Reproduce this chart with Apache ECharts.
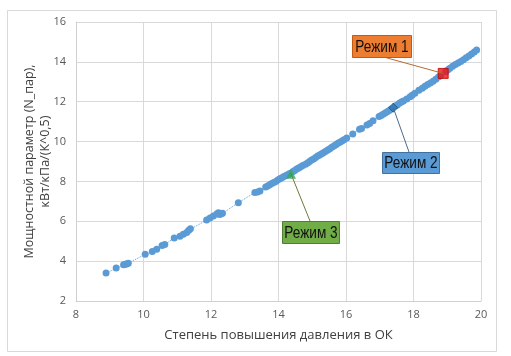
<!DOCTYPE html>
<html><head><meta charset="utf-8">
<script src="https://cdn.jsdelivr.net/npm/echarts@6/dist/echarts.min.js"></script>
<style>html,body{margin:0;padding:0;background:#fff}#c{width:511px;height:356px}</style>
</head><body><div id="c"></div>
<script>
// Measured points (pressure ratio, power parameter)
const xValues = [8.89,9.19,9.41,9.46,9.50,9.55,10.05,10.26,10.39,10.55,10.63,10.91,11.08,11.18,11.28,11.34,11.39,
 11.87,11.97,12.07,12.17,12.22,12.26,12.30,12.34,12.81,13.30,13.38,13.45,13.62,13.68,13.74,13.80,13.86,13.92,13.98,
 14.04,14.10,14.16,14.22,14.28,14.33,14.42,14.48,14.54,14.60,14.66,14.72,14.80,14.86,14.92,14.98,15.04,15.10,15.16,
 15.22,15.28,15.34,15.40,15.46,15.52,15.58,15.64,15.70,15.76,15.82,15.88,15.94,16.02,16.20,16.40,16.46,16.62,16.70,
 16.80,16.98,17.04,17.10,17.16,17.22,17.28,17.34,17.46,17.52,17.58,17.64,17.70,17.80,17.90,17.96,18.04,18.16,18.26,
 18.34,18.42,18.50,18.58,18.66,18.74,18.80,18.96,19.02,19.08,19.16,19.24,19.32,19.40,19.48,19.56,19.64,19.72,19.80,19.87];
const yValues = [3.40,3.65,3.82,3.85,3.86,3.89,4.34,4.48,4.60,4.79,4.83,5.16,5.25,5.35,5.44,5.55,5.62,
 6.06,6.17,6.27,6.37,6.43,6.34,6.38,6.40,6.93,7.45,7.47,7.52,7.72,7.77,7.83,7.89,7.95,8.00,8.07,
 8.13,8.19,8.25,8.30,8.35,8.40,8.49,8.55,8.62,8.68,8.74,8.80,8.86,8.93,9.00,9.07,9.13,9.20,9.27,
 9.32,9.39,9.45,9.52,9.58,9.64,9.72,9.78,9.84,9.91,9.97,10.03,10.09,10.18,10.38,10.62,10.66,10.83,10.91,
 11.05,11.26,11.31,11.37,11.43,11.50,11.56,11.63,11.78,11.84,11.92,11.99,12.04,12.14,12.25,12.33,12.42,12.57,12.68,
 12.77,12.86,12.94,13.03,13.13,13.24,13.32,13.52,13.60,13.68,13.78,13.87,13.94,14.02,14.10,14.20,14.30,14.40,14.50,14.60];
const modeNames = ['Режим 1','Режим 2','Режим 3'];
const modeX = [18.88, 17.40, 14.37];
const modeY = [13.42, 11.70, 8.38];
const xTicks = [8,10,12,14,16,18,20];
const yTicks = [2,4,6,8,10,12,14,16];

const chart = echarts.init(document.getElementById('c'), null, {renderer:'canvas'});
const pts = xValues.map((x,i)=>[x,yValues[i]]);
const axisFont = {fontFamily:'Open Sans', fontSize:11, color:'#595959'};
chart.setOption({
  animation:false,
  grid:{left:76,right:30,top:22,bottom:55},
  xAxis:{type:'value',min:xTicks[0],max:xTicks[xTicks.length-1],interval:2,
    name:'Степень повышения давления в ОК',nameLocation:'middle',nameGap:28,nameMoveOverlap:false,
    nameTextStyle:{fontFamily:'Open Sans',fontSize:13,color:'#404040'},
    axisLine:{show:true,lineStyle:{color:'#d0d0d0'}},axisTick:{show:false},
    axisLabel:Object.assign({margin:8},axisFont),
    splitLine:{show:true,lineStyle:{color:'#d9d9d9'}}},
  yAxis:{type:'value',min:yTicks[0],max:yTicks[yTicks.length-1],interval:2,
    name:'Мощностной параметр (N_пар),\nкВт/кПа/(К^0,5)',nameLocation:'middle',nameGap:23,nameRotate:90,nameMoveOverlap:false,
    nameTextStyle:{fontFamily:'Open Sans',fontSize:12.5,color:'#404040',lineHeight:16},
    axisLine:{show:true,lineStyle:{color:'#d0d0d0'}},axisTick:{show:false},
    axisLabel:Object.assign({margin:10},axisFont),
    splitLine:{show:true,lineStyle:{color:'#d9d9d9'}}},
  series:[
    {type:'line',data:pts,symbol:'circle',symbolSize:7,
     itemStyle:{color:'#5B9BD5'},lineStyle:{color:'#5B9BD5',width:1,type:'dotted'},z:2},
    {type:'scatter',data:[[modeX[0],modeY[0]]],symbol:'rect',symbolSize:10,
     itemStyle:{color:'#F01010',borderColor:'#C00000',borderWidth:1},z:5},
    {type:'scatter',data:[[modeX[1],modeY[1]]],symbol:'diamond',symbolSize:9,
     itemStyle:{color:'#2E75B6',borderColor:'#1F4E79',borderWidth:1},z:5},
    {type:'scatter',data:[[modeX[2],modeY[2]]],symbol:'triangle',symbolSize:10,
     itemStyle:{color:'#2EAA5A'},z:5}
  ]
});

const boxes = [
  {x:352,y:35,w:59,h:22,ax:380,ay:56,fill:'#ED7D31',stroke:'#C55A11',line:'#B8692F'},
  {x:382,y:152,w:57,h:21,ax:409,ay:152,fill:'#5B9BD5',stroke:'#41719C',line:'#4A6C8C'},
  {x:282,y:221,w:57,h:22,ax:310,ay:221,fill:'#70AD47',stroke:'#507E32',line:'#6B7A3A'}
];
const g = [{type:'rect',shape:{x:7.5,y:10.5,width:489,height:341},style:{fill:'none',stroke:'#d9d9d9',lineWidth:1},z:0,silent:true}];
boxes.forEach((b,i)=>{
  const p = chart.convertToPixel({gridIndex:0},[modeX[i],modeY[i]]);
  g.push({type:'line',shape:{x1:b.ax,y1:b.ay,x2:p[0],y2:p[1]},style:{stroke:b.line,lineWidth:1},z:10});
  g.push({type:'rect',shape:{x:b.x+0.5,y:b.y+0.5,width:b.w,height:b.h},style:{fill:b.fill,stroke:b.stroke,lineWidth:1},z:11});
  g.push({type:'text',x:b.x+b.w/2+0.5,y:b.y+b.h/2+1,scaleX:0.8,
    style:{text:modeNames[i],font:'17px "Liberation Sans"',fill:'#111',textAlign:'center',textVerticalAlign:'middle'},z:12});
});
chart.setOption({graphic:g});
</script></body></html>
